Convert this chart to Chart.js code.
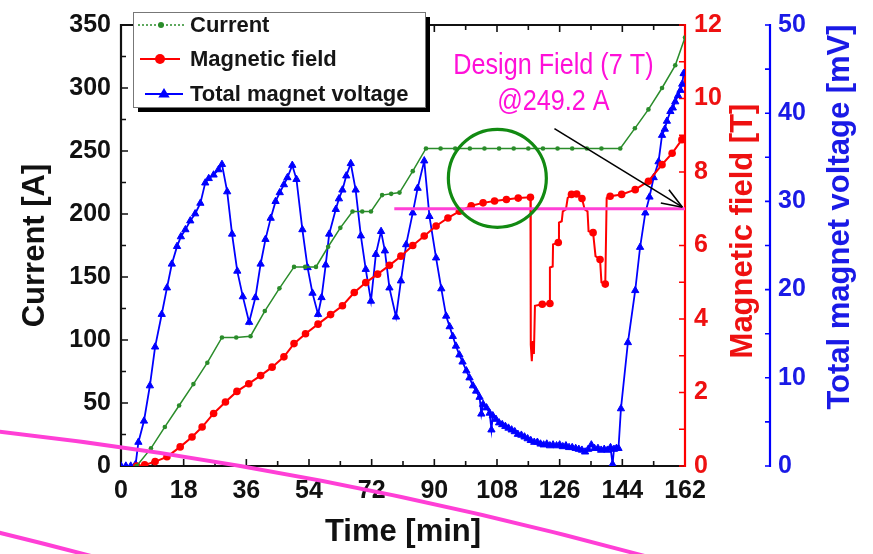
<!DOCTYPE html>
<html>
<head>
<meta charset="utf-8">
<script src="https://cdn.jsdelivr.net/npm/chart.js@4.4.1/dist/chart.umd.min.js"></script>
<style>
  html, body { margin: 0; padding: 0; background: #fff; }
  #wrap { width: 873px; height: 554px; }
</style>
</head>
<body>
<div id="wrap"><canvas id="c" width="873" height="554"></canvas></div>
<script>
// ---- series ----
const seriesNames = ['Current', 'Magnetic field', 'Total magnet voltage'];

const timeCurrent = [4.5, 8.6, 12.6, 16.7, 20.8, 24.8, 29.0, 33.1, 37.2, 41.3, 45.5, 49.7, 52.9, 56.0,
  59.5, 63.0, 66.5, 69.3, 71.8, 75.0, 77.6, 80.0, 83.8, 87.6, 91.8, 96.0, 100.2, 104.4, 108.6,
  112.8, 117.0, 121.2, 125.4, 129.6, 133.8, 138.0, 143.4, 147.6, 151.5, 155.4, 159.2, 162.0];
const current = [0, 14, 31, 48, 65, 82, 102, 102, 103, 123, 141, 158, 158, 158,
  174, 189, 202, 202, 202, 215, 216, 217, 234, 252, 252, 252, 252, 252, 252,
  252, 252, 252, 252, 252, 252, 252, 252, 268, 283, 300, 318, 340];

const timeField = [4.5, 6.8, 9.8, 13.2, 17.0, 20.4, 23.3, 26.6, 30.0, 33.3, 36.7, 40.1, 43.4, 46.8,
  49.7, 53.0, 56.6, 60.2, 63.6, 67.0, 70.3, 73.7, 77.1, 80.4, 83.8, 87.1, 90.5, 93.9, 97.2, 100.6,
  104.0, 107.3, 110.7, 114.1, 117.6, 117.7, 118.0, 118.3, 118.6, 118.9, 121.0, 123.2, 123.2, 124.0,
  124.1, 125.6, 125.8, 126.6, 126.9, 127.8, 128.3, 129.4, 130.9, 132.4, 133.2, 134.0, 134.3, 135.6,
  136.3, 137.6, 138.0, 139.1, 139.5, 140.5, 143.8, 147.7, 151.5, 155.4, 158.3, 161.1, 162.0];
const field = [0, 0.03, 0.12, 0.25, 0.52, 0.79, 1.06, 1.43, 1.74, 2.03, 2.24, 2.46, 2.69, 2.97,
  3.33, 3.60, 3.86, 4.12, 4.36, 4.72, 4.99, 5.22, 5.46, 5.71, 6.00, 6.26, 6.53, 6.75, 6.93, 7.08,
  7.16, 7.21, 7.25, 7.29, 7.31, 3.30, 2.85, 3.40, 3.05, 4.36, 4.40, 4.42, 5.40, 5.43,
  6.03, 6.08, 6.62, 6.66, 6.93, 6.98, 7.29, 7.39, 7.40, 7.28, 6.98, 6.93, 6.39, 6.35,
  5.71, 5.62, 5.00, 4.95, 7.29, 7.34, 7.39, 7.52, 7.75, 8.20, 8.51, 8.88, 8.97];

const timeVoltage = [0.0, 1.4, 2.8, 4.2, 5.0, 6.6, 8.3, 9.8, 11.7, 13.2,
  14.6, 16.1, 17.2, 18.5, 19.9, 21.3, 22.8, 24.2, 25.2, 26.6,
  28.0, 29.0, 30.5, 31.9, 33.4, 35.0, 36.8, 38.6, 40.1, 41.5,
  43.0, 44.4, 45.6, 46.8, 47.8, 49.2, 50.4, 52.1, 53.6, 55.0,
  56.6, 57.6, 58.8, 59.8, 61.7, 62.6, 63.6, 64.7, 66.0, 67.4,
  68.9, 70.3, 71.8, 73.2, 74.7, 75.8, 77.1, 79.0, 80.4, 81.9,
  83.8, 85.2, 87.1, 88.6, 90.5, 92.0, 93.4, 94.4, 95.3, 96.2,
  97.2, 98.1, 99.2, 100.1, 101.1, 102.0, 103.0, 103.5, 104.0, 105.0,
  105.9, 106.4, 106.8, 107.7, 108.6, 109.5, 110.4, 111.3, 112.2, 113.1,
  114.0, 115.0, 115.9, 116.8, 117.7, 118.7, 119.6, 120.5, 121.4, 122.3,
  123.2, 124.1, 125.1, 126.0, 126.9, 127.8, 128.7, 129.6, 130.6, 131.5,
  132.4, 133.3, 134.2, 135.1, 136.0, 137.0, 137.9, 138.8, 139.7, 140.6,
  141.2, 141.6, 142.3, 142.9, 143.6, 145.6, 147.7, 149.1, 150.6, 151.8,
  153.0, 154.4, 155.4, 156.2, 156.8, 157.8, 158.5, 159.2, 160.0, 160.7,
  161.2, 161.6, 162.0];
const voltage = [0, 0, 0, 0.2, 2.7, 5.1, 9.1, 13.5, 17.2, 20.2,
  22.9, 24.9, 26.0, 26.8, 27.8, 28.6, 29.8, 32.1, 32.6, 33.0,
  33.6, 34.2, 31.1, 26.3, 22.1, 19.2, 16.3, 19.1, 22.9, 25.7,
  28.1, 30.0, 31.0, 31.9, 32.7, 34.1, 32.5, 26.8, 22.5, 19.6,
  17.2, 19.1, 22.8, 26.3, 29.1, 30.3, 31.3, 32.9, 34.3, 31.3,
  26.1, 22.3, 18.7, 24.0, 26.6, 24.4, 20.2, 16.9, 21.0, 25.1,
  28.7, 31.5, 34.6, 28.3, 23.6, 20.1, 17.0, 15.8, 14.7, 13.6,
  12.6, 11.8, 10.8, 10.0, 9.1, 8.5, 7.8, 5.9, 7.0, 6.6,
  6.0, 4.1, 5.7, 5.3, 4.9, 4.7, 4.5, 4.3, 4.1, 3.9,
  3.6, 3.5, 3.3, 3.1, 2.9, 2.7, 2.7, 2.5, 2.4, 2.5,
  2.3, 2.4, 2.3, 2.4, 2.2, 2.3, 2.1, 2.1, 2.0, 1.9,
  1.8, 1.6, 1.9, 2.4, 2.0, 2.0, 1.8, 1.9, 1.8, 2.1,
  0.2, 1.9, 2.0, 2.0, 6.5, 14.0, 19.9, 24.8, 28.7, 30.5,
  32.7, 34.5, 37.5, 38.2, 39.1, 40.2, 40.6, 41.3, 42.0, 42.6,
  43.3, 44.5, 44.5];

// ---- tick labels ----
const timeTicks = [0, 18, 36, 54, 72, 90, 108, 126, 144, 162];
const currentTicks = [0, 50, 100, 150, 200, 250, 300, 350];
const fieldTicks = [0, 2, 4, 6, 8, 10, 12];
const voltageTicks = [0, 10, 20, 30, 40, 50];

// ---- design point annotation ----
const designField = 7;        // T
const designCurrent = 249.2;  // A
const designStartTime = 78.5; // min, start of the 7 T guide line

const FONT = '"Liberation Sans", Arial, Helvetica, sans-serif';
const GREEN = '#2a8c2a', RED = '#ff0000', BLUE = '#0000ff', PINK = '#ff3fd6';

const pts = (xs, ys) => xs.map((x, i) => ({ x, y: ys[i] }));
const setTicks = list => scale => { scale.ticks = list.map(v => ({ value: v })); };
const midpoints = arr => arr.slice(1).map((v, i) => (v + arr[i]) / 2);

// axes frame with inward tick marks
const axisFrame = {
  id: 'axisFrame',
  beforeDatasetsDraw(chart) {
    const { ctx, chartArea: a, scales } = chart;
    const sx = scales.x, sI = scales.yI, sB = scales.yB, sV = scales.yV;
    ctx.save();
    ctx.lineCap = 'butt';
    ctx.lineWidth = 1.6;
    // black frame: left, bottom, top
    ctx.strokeStyle = '#111';
    ctx.beginPath();
    timeTicks.forEach(v => { const p = sx.getPixelForValue(v);
      ctx.moveTo(p, a.bottom); ctx.lineTo(p, a.bottom - 7);
      ctx.moveTo(p, a.top); ctx.lineTo(p, a.top + 7); });
    midpoints(timeTicks).forEach(v => { const p = sx.getPixelForValue(v);
      ctx.moveTo(p, a.bottom); ctx.lineTo(p, a.bottom - 5);
      ctx.moveTo(p, a.top); ctx.lineTo(p, a.top + 5); });
    currentTicks.forEach(v => { const p = sI.getPixelForValue(v);
      ctx.moveTo(a.left, p); ctx.lineTo(a.left + 7, p); });
    midpoints(currentTicks).forEach(v => { const p = sI.getPixelForValue(v);
      ctx.moveTo(a.left, p); ctx.lineTo(a.left + 5, p); });
    ctx.stroke();
    ctx.lineWidth = 2.2;
    ctx.beginPath();
    ctx.moveTo(a.left, a.top); ctx.lineTo(a.right, a.top);
    ctx.moveTo(a.left, a.top - 1); ctx.lineTo(a.left, a.bottom);
    ctx.lineTo(a.right, a.bottom);
    ctx.stroke();
    // red field axis
    ctx.strokeStyle = RED;
    ctx.lineWidth = 1.6;
    ctx.beginPath();
    fieldTicks.concat(midpoints(fieldTicks)).forEach(v => { const p = sB.getPixelForValue(v);
      ctx.moveTo(a.right, p); ctx.lineTo(a.right - 6, p); });
    ctx.stroke();
    ctx.lineWidth = 2.2;
    ctx.beginPath(); ctx.moveTo(a.right, a.top - 1); ctx.lineTo(a.right, a.bottom + 1); ctx.stroke();
    // blue voltage axis
    const vx = sV.left;
    ctx.strokeStyle = BLUE;
    ctx.lineWidth = 1.6;
    ctx.beginPath();
    voltageTicks.concat(midpoints(voltageTicks)).forEach(v => { const p = sV.getPixelForValue(v);
      ctx.moveTo(vx, p); ctx.lineTo(vx - 5, p); });
    ctx.stroke();
    ctx.lineWidth = 2.2;
    ctx.beginPath(); ctx.moveTo(vx, a.top - 1); ctx.lineTo(vx, a.bottom + 1); ctx.stroke();
    ctx.restore();
  }
};

function drawTriangle(ctx, x, y, r) {
  ctx.beginPath();
  ctx.moveTo(x, y - r);
  ctx.lineTo(x + r * 0.95, y + r * 0.6);
  ctx.lineTo(x - r * 0.95, y + r * 0.6);
  ctx.closePath();
  ctx.fill();
}

// design field marker, highlight circle, arrow, captions, titles, legend
const overlays = {
  id: 'overlays',
  afterDatasetsDraw(chart) {
    const { ctx, chartArea: a, scales } = chart;
    const sx = scales.x, sI = scales.yI, sB = scales.yB;
    ctx.save();
    // 7 T guide line
    const yDesign = sB.getPixelForValue(designField);
    const xEnd = sx.getPixelForValue(162);
    ctx.strokeStyle = PINK; ctx.lineWidth = 3.2;
    ctx.beginPath();
    ctx.moveTo(sx.getPixelForValue(designStartTime), yDesign);
    ctx.lineTo(xEnd, yDesign);
    ctx.stroke();
    // highlight circle on the flat-top region
    ctx.strokeStyle = '#128a12'; ctx.lineWidth = 3.2;
    ctx.beginPath();
    ctx.arc(sx.getPixelForValue(108.1), sI.getPixelForValue(228.3), 49, 0, Math.PI * 2);
    ctx.stroke();
    // arrow to the design point
    const x0 = sx.getPixelForValue(124.5), y0 = sI.getPixelForValue(267.8);
    const ang = Math.atan2(yDesign - y0, xEnd - x0);
    const tx = xEnd - 3 * Math.cos(ang), ty = yDesign - 3 * Math.sin(ang);
    ctx.strokeStyle = '#000'; ctx.lineWidth = 1.6;
    ctx.beginPath(); ctx.moveTo(x0, y0); ctx.lineTo(tx, ty); ctx.stroke();
    ctx.beginPath();
    [0.36, -0.36].forEach(d => {
      ctx.moveTo(tx, ty);
      ctx.lineTo(tx - 22 * Math.cos(ang + d), ty - 22 * Math.sin(ang + d));
    });
    ctx.stroke();
    // caption
    ctx.fillStyle = '#ff10d8';
    ctx.font = '30px ' + FONT;
    ctx.textAlign = 'center';
    ctx.textBaseline = 'alphabetic';
    const cx = sx.getPixelForValue(124.2);
    const lines = ['Design Field (' + designField + ' T)', '@' + designCurrent.toFixed(1) + ' A'];
    const bases = [sI.getPixelForValue(311.3), sI.getPixelForValue(282.9)];
    lines.forEach((t, i) => {
      ctx.save();
      ctx.translate(cx, bases[i]);
      ctx.scale(0.84, 1);
      ctx.fillText(t, 0, 0);
      ctx.restore();
    });
    ctx.restore();
  },
  afterDraw(chart) {
    const { ctx, chartArea: a, scales } = chart;
    ctx.save();
    // right-hand axis titles, reading bottom to top
    ctx.font = 'bold 31px ' + FONT;
    ctx.textAlign = 'center';
    ctx.textBaseline = 'middle';
    [[scales.yB.right - 27, a.top + 206, '#ee1111', 'Magnetic field [T]'],
     [scales.yV.left + 70, a.top + 192, '#1a1ae6', 'Total magnet voltage [mV]']].forEach(([x, y, c, t]) => {
      ctx.save(); ctx.translate(x, y); ctx.rotate(-Math.PI / 2);
      ctx.fillStyle = c; ctx.fillText(t, 0, 0); ctx.restore();
    });
    // legend box with drop shadow
    const lx = a.left + 12, ly = a.top - 13, lw = 292, lh = 95;
    ctx.fillStyle = '#000';
    ctx.fillRect(lx + 5, ly + 5, lw, lh);
    ctx.fillStyle = '#fff';
    ctx.fillRect(lx, ly, lw, lh);
    ctx.strokeStyle = '#777'; ctx.lineWidth = 1;
    ctx.strokeRect(lx + 0.5, ly + 0.5, lw, lh);
    const rows = [ly + 13, ly + 47, ly + 82];
    // Current
    ctx.strokeStyle = GREEN; ctx.lineWidth = 1.3;
    ctx.setLineDash([2, 2]);
    ctx.beginPath(); ctx.moveTo(lx + 5, rows[0]); ctx.lineTo(lx + 52, rows[0]); ctx.stroke();
    ctx.setLineDash([]);
    ctx.fillStyle = GREEN;
    ctx.beginPath(); ctx.arc(lx + 28, rows[0], 3, 0, Math.PI * 2); ctx.fill();
    // Magnetic field
    ctx.strokeStyle = RED; ctx.lineWidth = 2;
    ctx.beginPath(); ctx.moveTo(lx + 7, rows[1]); ctx.lineTo(lx + 47, rows[1]); ctx.stroke();
    ctx.fillStyle = RED;
    ctx.beginPath(); ctx.arc(lx + 27, rows[1], 5, 0, Math.PI * 2); ctx.fill();
    // Total magnet voltage
    ctx.strokeStyle = BLUE; ctx.lineWidth = 2;
    ctx.beginPath(); ctx.moveTo(lx + 12, rows[2]); ctx.lineTo(lx + 50, rows[2]); ctx.stroke();
    ctx.fillStyle = BLUE;
    drawTriangle(ctx, lx + 31, rows[2], 6);
    ctx.fillStyle = '#161616';
    ctx.font = 'bold 22px ' + FONT;
    ctx.textAlign = 'left';
    seriesNames.forEach((n, i) => ctx.fillText(n, lx + 57, rows[i] + 1));
    // hand-drawn highlight strokes
    ctx.strokeStyle = PINK; ctx.lineWidth = 4; ctx.lineCap = 'round';
    ctx.beginPath();
    ctx.moveTo(-10, 430.6);
    ctx.quadraticCurveTo(330, 468, 670, 563);
    ctx.stroke();
    ctx.beginPath();
    ctx.moveTo(-10, 530.5);
    ctx.quadraticCurveTo(50, 545, 110, 561);
    ctx.stroke();
    ctx.restore();
  }
};

const tickFont = { family: FONT, size: 25, weight: 'bold' };
const titleFont = { family: FONT, size: 31, weight: 'bold' };

new Chart(document.getElementById('c'), {
  type: 'line',
  data: {
    datasets: [
      { label: seriesNames[0], data: pts(timeCurrent, current), yAxisID: 'yI',
        borderColor: GREEN, backgroundColor: GREEN, borderWidth: 1.5,
        pointRadius: 2.3, pointBorderWidth: 0, pointBackgroundColor: GREEN, tension: 0 },
      { label: seriesNames[1], data: pts(timeField, field), yAxisID: 'yB',
        borderColor: RED, backgroundColor: RED, borderWidth: 2,
        pointRadius: c => {
          const i = c.dataIndex;
          return (i > 0 && timeField[i] - timeField[i - 1] < 1.0) ? 0 : 3.8;
        },
        pointBorderWidth: 0, pointBackgroundColor: RED, tension: 0 },
      { label: seriesNames[2], data: pts(timeVoltage, voltage), yAxisID: 'yV',
        borderColor: BLUE, backgroundColor: BLUE, borderWidth: 1.8,
        pointStyle: 'triangle', pointRadius: 4.2, pointBorderWidth: 1,
        pointBorderColor: BLUE, pointBackgroundColor: BLUE, tension: 0 }
    ]
  },
  options: {
    responsive: false,
    animation: false,
    devicePixelRatio: 1,
    layout: { padding: { top: 23, left: 0, right: 0, bottom: 0 } },
    plugins: { legend: { display: false }, tooltip: { enabled: false } },
    scales: {
      x: {
        type: 'linear', position: 'bottom', min: 0, max: 162,
        afterBuildTicks: setTicks(timeTicks),
        afterFit: s => { s.height = 88; },
        grid: { display: false, drawTicks: false },
        border: { display: false },
        ticks: { font: tickFont, color: '#111', padding: 10, autoSkip: false, maxRotation: 0 },
        title: { display: true, text: 'Time [min]', font: titleFont, color: '#111', padding: { bottom: 3 } }
      },
      yI: {
        type: 'linear', position: 'left', min: 0, max: 350,
        afterBuildTicks: setTicks(currentTicks),
        afterFit: s => { s.width = 121; },
        grid: { display: false, drawTicks: false },
        border: { display: false },
        ticks: { font: tickFont, color: '#111', padding: 10, autoSkip: false },
        title: { display: true, text: 'Current [A]', font: titleFont, color: '#111', padding: { top: 17 } }
      },
      yB: {
        type: 'linear', position: 'right', weight: 0, min: 0, max: 12,
        afterBuildTicks: setTicks(fieldTicks),
        afterFit: s => { s.width = 85; },
        grid: { display: false, drawTicks: false },
        border: { display: false },
        ticks: { font: tickFont, color: '#ee1111', padding: 9, autoSkip: false }
      },
      yV: {
        type: 'linear', position: 'right', weight: 1, min: 0, max: 50,
        afterBuildTicks: setTicks(voltageTicks),
        afterFit: s => { s.width = 103; },
        grid: { display: false, drawTicks: false },
        border: { display: false },
        ticks: { font: tickFont, color: '#1a1ae6', padding: 8, autoSkip: false }
      }
    }
  },
  plugins: [axisFrame, overlays]
});
</script>
</body>
</html>
